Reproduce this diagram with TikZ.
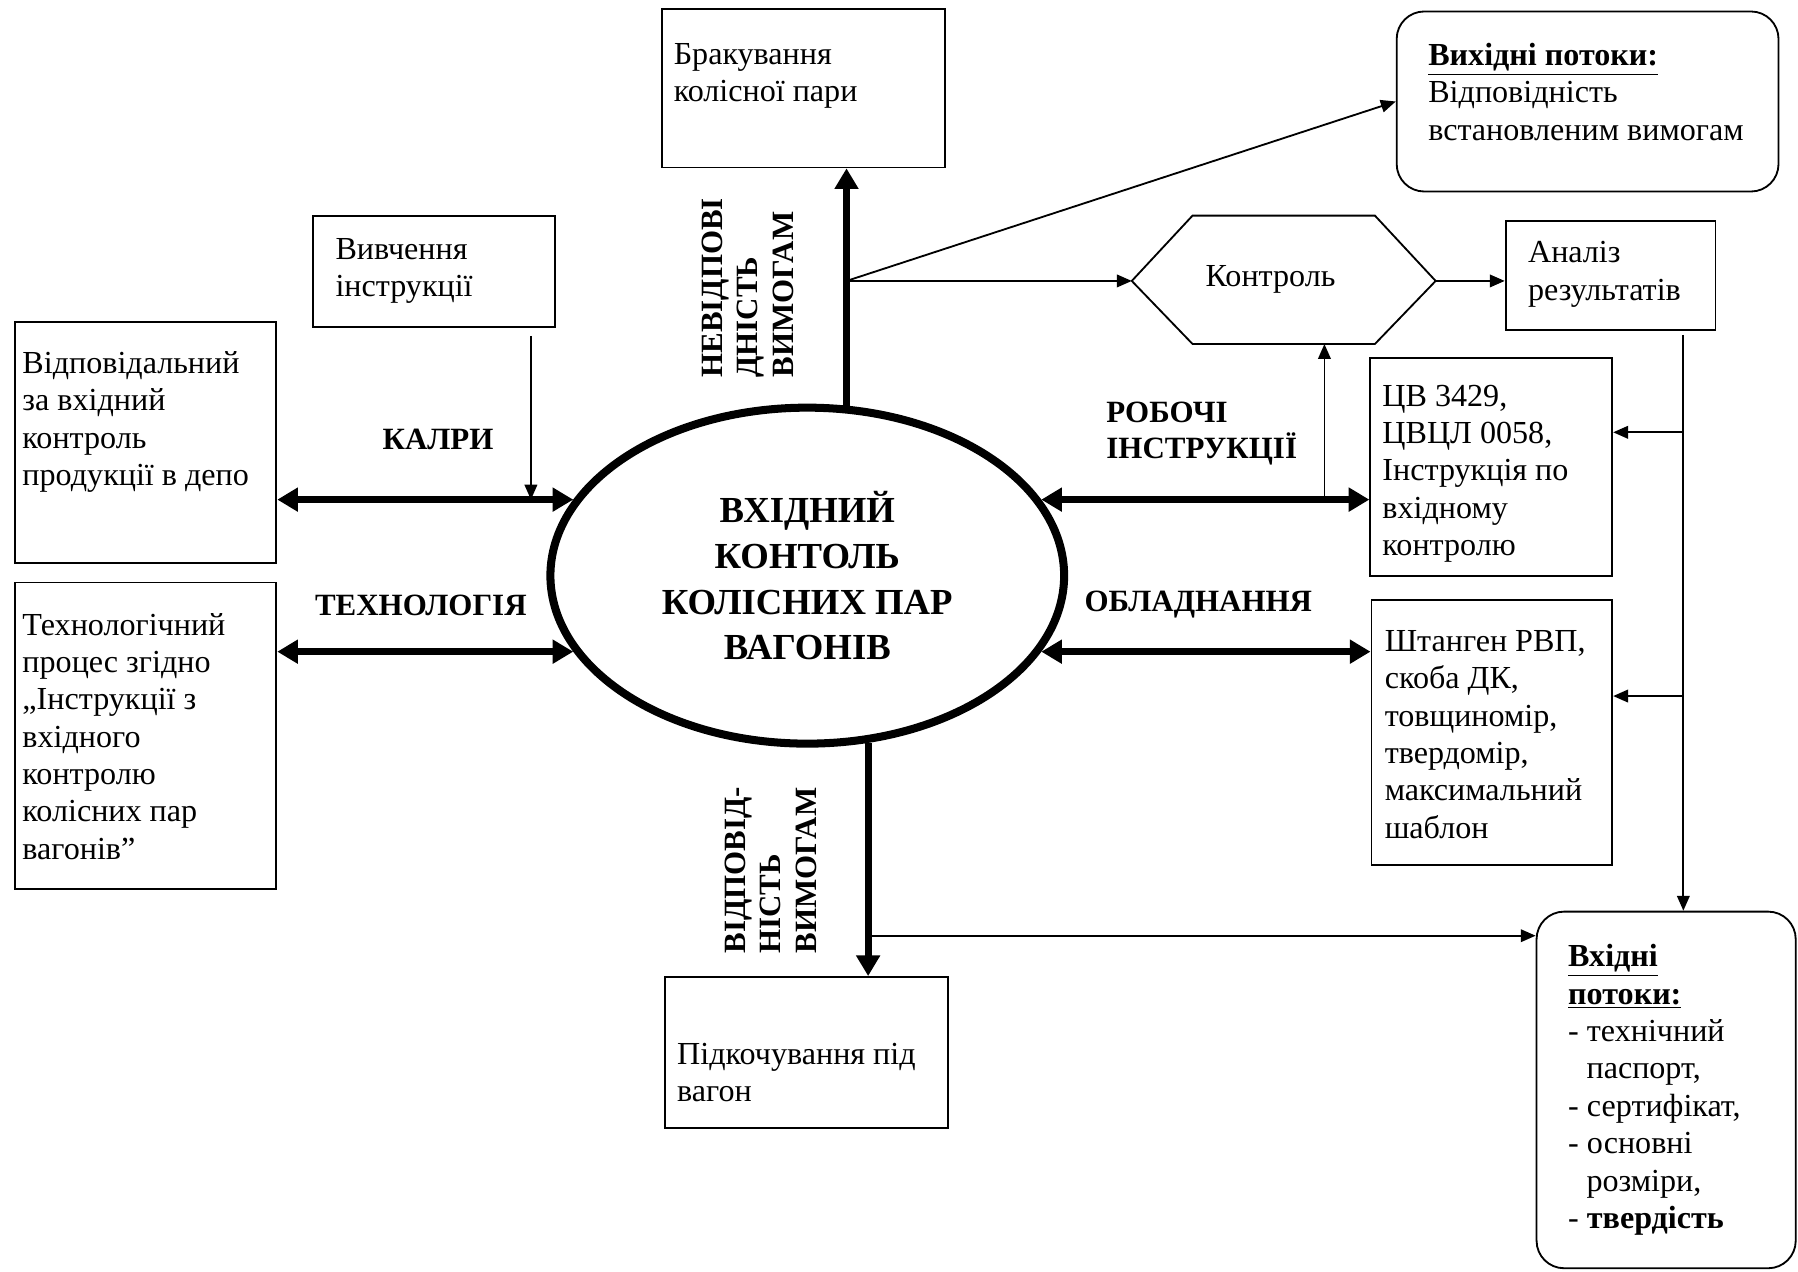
\documentclass[tikz,border=0pt]{standalone}
\usepackage{fontspec}
\setmainfont{Liberation Serif}
\usetikzlibrary{arrows.meta,positioning,shapes.geometric}

\begin{document}
\begin{tikzpicture}[x=0.5pt,y=-0.5pt,
    box/.style={draw,line width=0.8pt,inner sep=0pt},
    rbox/.style={box,rounded corners=12pt},
    txt/.style={inner sep=0pt,align=left,font=\fontsize{14}{16.3}\selectfont},
    lbl/.style={inner sep=0pt,align=left,font=\fontsize{13.5}{15.5}\selectfont\bfseries},
    flow/.style={line width=0.8pt,-{Triangle[length=6.5pt,width=5.5pt]}},
    mainflow/.style={line width=3pt,-{Triangle[length=9pt,width=10pt]}},
    dblflow/.style={line width=3pt,{Triangle[length=9pt,width=10pt]}-{Triangle[length=9pt,width=10pt]}}]

  \useasboundingbox (0,0) rectangle (1568,1109);

  % central ellipse
  \node[ellipse,draw,line width=3.5pt,minimum width=224pt,minimum height=146.5pt,inner sep=0pt,
        align=center,font=\fontsize{16}{20}\selectfont\bfseries] (otk) at (704,502)
        {ВХІДНИЙ\\КОНТОЛЬ\\КОЛІСНИХ ПАР\\ВАГОНІВ};

  % boxes
  \node[box,minimum width=123.5pt,minimum height=69pt] (brak) at (700.5,77) {};
  \node[rbox,minimum width=166.5pt,minimum height=78.5pt] (vyh) at (1384.5,88.5) {};
  \node[box,minimum width=105.5pt,minimum height=48.5pt] (vyvch) at (378.5,236.5) {};
  \node[box,minimum width=91.5pt,minimum height=47.5pt] (analiz) at (1404.5,240.5) {};
  \node[box,minimum width=114pt,minimum height=105pt] (vidp) at (127,386) {};
  \node[box,minimum width=105.5pt,minimum height=95pt] (cv) at (1300.5,407) {};
  \node[box,minimum width=114pt,minimum height=133.5pt] (tech) at (127,641.5) {};
  \node[box,minimum width=105pt,minimum height=115.5pt] (shtan) at (1301,638.5) {};
  \node[box,minimum width=123.5pt,minimum height=66pt] (pidk) at (703.5,918) {};
  \node[rbox,minimum width=113pt,minimum height=155.5pt] (vhid) at (1453,950.5) {};

  % hexagon
  \coordinate (hexW) at (987,245);
  \coordinate (hexNW) at (1040,188);
  \coordinate (hexNE) at (1199,188);
  \coordinate (hexE) at (1252,245);
  \coordinate (hexSE) at (1199,300);
  \coordinate (hexSW) at (1040,300);
  \coordinate (hexS) at (1155,300);
  \draw[line width=0.8pt] (hexW) -- (hexNW) -- (hexNE) -- (hexE) -- (hexSE) -- (hexSW) -- cycle;
  \node[txt] (kontrol) at (1108,244) {Контроль};

  % box texts
  \node[txt,below right=15pt and 5.5pt of brak.north west] (brakText) {Бракування\\колісної пари};
  \node[txt,below right=14pt and 14pt of vyh.north west] (vyhText)
       {\underline{\textbf{Вихідні потоки:}}\\Відповідність\\встановленим вимогам};
  \node[txt,below right=10pt and 10pt of vyvch.north west] (vyvchText) {Вивчення\\інструкції};
  \node[txt,below right=9pt and 10pt of analiz.north west] (analizText) {Аналіз\\результатів};
  \node[txt,below right=13pt and 3.5pt of vidp.north west] (vidpText)
       {Відповідальний\\за вхідний\\контроль\\продукції в депо};
  \node[txt,below right=12pt and 5.5pt of cv.north west] (cvText)
       {ЦВ 3429,\\ЦВЦЛ 0058,\\Інструкція по\\вхідному\\контролю};
  \node[txt,below right=13.5pt and 3.5pt of tech.north west] (techText)
       {Технологічний\\процес згідно\\„Інструкції з\\вхідного\\контролю\\колісних пар\\вагонів”};
  \node[txt,below right=13.5pt and 6pt of shtan.north west] (shtanText)
       {Штанген РВП,\\скоба ДК,\\товщиномір,\\твердомір,\\максимальний\\шаблон};
  \node[txt,below right=29pt and 5.5pt of pidk.north west] (pidkText) {Підкочування під\\вагон};
  \node[txt,below right=14.5pt and 14pt of vhid.north west] (vhidText)
       {\underline{\textbf{Вхідні}}\\\underline{\textbf{потоки:}}\\- технічний\\\hspace*{8pt}паспорт,\\- сертифікат,\\- основні\\\hspace*{8pt}розміри,\\- \textbf{твердість}};

  % labels
  \node[lbl] (kadry) at (382,383) {КАЛРИ};
  \node[lbl] (tehn) at (367,528) {ТЕХНОЛОГІЯ};
  \node[lbl] (robochi) at (1048,378) {РОБОЧІ\\ІНСТРУКЦІЇ};
  \node[lbl] (obl) at (1045,527) {ОБЛАДНАННЯ};
  \node[lbl,rotate=90] (nevidp) at (652,251) {НЕВІДПОВІ\\ДНІСТЬ\\ВИМОГАМ};
  \node[lbl,rotate=90] (vidpov) at (672,759) {ВІДПОВІД-\\НІСТЬ\\ВИМОГАМ};

  % thick connectors
  \draw[mainflow] (otk.77.6) -- (otk.77.6 |- brak.south);
  \draw[mainflow] (otk.290.4) -- (otk.290.4 |- pidk.north);
  \draw[dblflow] (otk.162 -| vidp.east) -- (otk.162);
  \draw[dblflow] (otk.198 -| tech.east) -- (otk.198);
  \draw[dblflow] (otk.18) -- (otk.18 -| cv.west);
  \draw[dblflow] (otk.342) -- (otk.342 -| shtan.west);

  % thin connectors
  \coordinate (br1) at (otk.77.6 |- hexW);
  \draw[flow] (br1) -- (vyh.west);
  \draw[flow] (br1) -- (hexW);
  \draw[flow] (hexE) -- (hexE -| analiz.west);
  \draw[flow] (otk.18 -| hexS) -- (hexS);
  \coordinate (vv) at (463,293);
  \draw[flow] (vv) -- (vv |- otk.162);
  \coordinate (rtop) at (1468,292);
  \coordinate (b1) at (1468,377);
  \coordinate (b2) at (1468,607);
  \draw[flow] (rtop) -- (rtop |- vhid.north);
  \draw[flow] (b1) -- (b1 -| cv.east);
  \draw[flow] (b2) -- (b2 -| shtan.east);
  \coordinate (lvl) at (0,816);
  \draw[flow] (otk.290.4 |- lvl) -- (lvl -| vhid.west);

\end{tikzpicture}
\end{document}
